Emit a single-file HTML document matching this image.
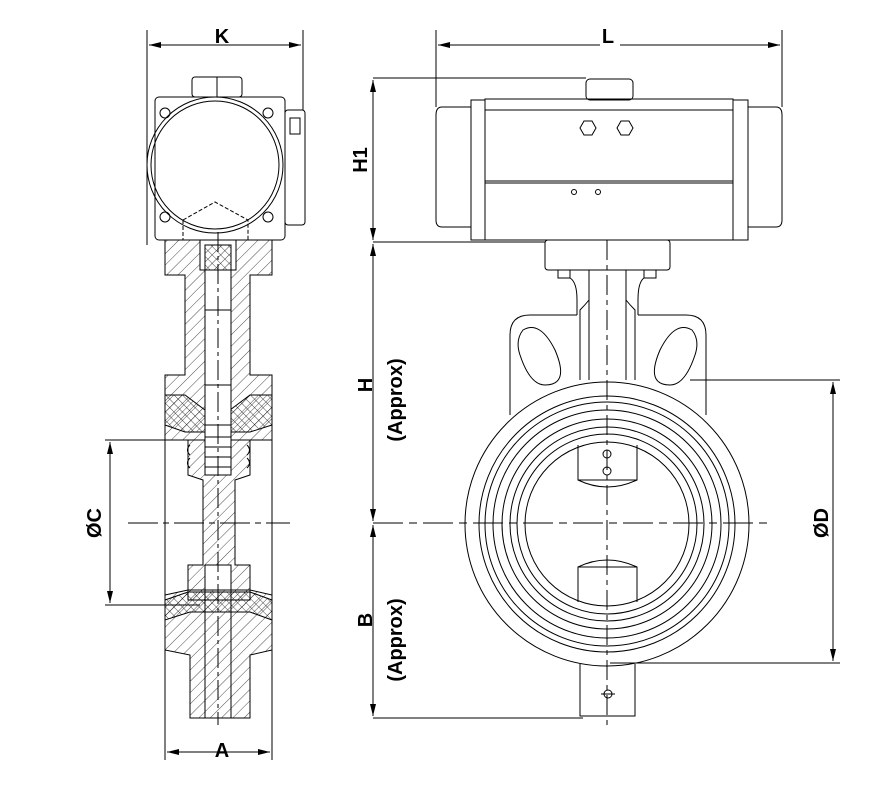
<!DOCTYPE html>
<html><head><meta charset="utf-8"><style>
html,body{margin:0;padding:0;background:#fff;}
svg{display:block;}
text{font-family:"Liberation Sans",Arial,sans-serif;font-weight:bold;font-size:20px;fill:#000;}
</style></head><body>
<svg width="872" height="786" viewBox="0 0 872 786" xmlns="http://www.w3.org/2000/svg">
<defs>
<pattern id="h" width="8" height="8" patternUnits="userSpaceOnUse" patternTransform="rotate(45)">
<line x1="0" y1="0" x2="0" y2="8" stroke="#000" stroke-width="0.7"/></pattern>
<pattern id="x" width="6" height="6" patternUnits="userSpaceOnUse" patternTransform="rotate(45)">
<line x1="0" y1="0" x2="0" y2="6" stroke="#000" stroke-width="0.7"/><line x1="0" y1="0" x2="6" y2="0" stroke="#000" stroke-width="0.7"/></pattern>
<marker id="a" markerWidth="12" markerHeight="6" refX="12" refY="3" orient="auto" markerUnits="userSpaceOnUse"><path d="M0,0 L12,3 L0,6z" fill="#000"/></marker>
</defs>
<g fill="none" stroke="#000" stroke-width="1">
<!-- ===== LEFT VIEW ===== -->
<!-- K dim -->
<line x1="147" y1="30" x2="147" y2="245"/><line x1="303" y1="30" x2="303" y2="110"/>
<line x1="175" y1="45" x2="149" y2="45" marker-end="url(#a)"/><line x1="275" y1="45" x2="301" y2="45" marker-end="url(#a)"/>
<line x1="175" y1="45" x2="275" y2="45"/>
<!-- actuator end -->
<rect x="192" y="77" width="50" height="20" rx="3"/><line x1="217" y1="77" x2="217" y2="97"/>
<rect x="155" y="97" width="130" height="143" rx="4"/>
<rect x="285" y="110" width="20" height="115" rx="3"/>
<rect x="290" y="118" width="10" height="16"/>
<circle cx="215" cy="165" r="68"/><circle cx="215" cy="165" r="64"/>
<circle cx="165" cy="113" r="5"/><circle cx="268" cy="113" r="5"/><circle cx="165" cy="217" r="5"/><circle cx="268" cy="217" r="5"/>
<path d="M183 220 L215 202 L248 220 L248 240 M183 220 L183 240" stroke-dasharray="4 2"/>
<!-- body section -->
<path d="M165 240 H272 V275 H250 V375 H272 V440 H165 V375 H185 V275 H165Z" fill="url(#h)"/>
<path d="M165 395 H185 L205 410 H230 L250 395 H272 V425 L250 432 H185 L165 425Z" fill="url(#x)"/>
<rect x="200" y="240" width="36" height="30" fill="#fff"/>
<rect x="205" y="245" width="26" height="25" fill="url(#x)"/>
<rect x="205" y="270" width="26" height="160" fill="#fff"/>
<rect x="205" y="310" width="26" height="75"/>
<path d="M188 440 H250 V475 L235 480 V565 H250 V600 H188 V565 H203 V480 L188 475Z" fill="url(#h)"/>
<rect x="205" y="425" width="26" height="50" fill="#fff"/>
<path d="M205 437 H231 M205 447 H231 M205 457 H231 M205 467 H231"/>
<path d="M190 445 q-5 5 0 10 M190 458 q-5 5 0 10 M247 445 q5 5 0 10 M247 458 q5 5 0 10"/>
<rect x="205" y="565" width="26" height="35" fill="#fff"/>
<path d="M165 595 L188 590 H250 L272 595 V650 L250 655 V718 H190 V655 L165 650Z" fill="url(#h)"/>
<path d="M165 600 L188 592 H250 L272 600 V620 L250 612 H190 L165 620Z" fill="url(#x)"/>
<rect x="205" y="600" width="26" height="118" fill="none"/>
<line x1="165" y1="440" x2="165" y2="760"/><line x1="272" y1="440" x2="272" y2="760"/>
<line x1="218" y1="232" x2="218" y2="725" stroke-dasharray="20 4 4 4"/>
<line x1="128" y1="523" x2="290" y2="523" stroke-dasharray="30 5 6 5"/>
<!-- C dim -->
<line x1="105" y1="440" x2="200" y2="440"/><line x1="105" y1="605" x2="200" y2="605"/>
<line x1="110" y1="490" x2="110" y2="442" marker-end="url(#a)"/><line x1="110" y1="560" x2="110" y2="603" marker-end="url(#a)"/><line x1="110" y1="490" x2="110" y2="560"/>
<!-- A dim -->
<line x1="200" y1="752" x2="167" y2="752" marker-end="url(#a)"/><line x1="240" y1="752" x2="270" y2="752" marker-end="url(#a)"/><line x1="200" y1="752" x2="240" y2="752"/>

<!-- ===== RIGHT VIEW ===== -->
<line x1="436" y1="30" x2="436" y2="107"/><line x1="782" y1="30" x2="782" y2="107"/>
<line x1="600" y1="45" x2="438" y2="45" marker-end="url(#a)"/><line x1="620" y1="45" x2="780" y2="45" marker-end="url(#a)"/>
<rect x="586" y="79" width="47" height="21" rx="4"/>
<path d="M471 107 H442 Q436 107 436 115 V220 Q436 227 442 227 H471"/>
<rect x="471" y="100" width="14" height="140"/>
<rect x="485" y="99" width="248" height="141"/>
<line x1="485" y1="110" x2="733" y2="110"/><line x1="485" y1="181" x2="733" y2="181"/><line x1="485" y1="183" x2="733" y2="183"/>
<rect x="733" y="100" width="15" height="140"/>
<path d="M748 107 H776 Q782 107 782 115 V220 Q782 227 776 227 H748"/>
<polygon points="580,128 584,121 592,121 596,128 592,135 584,135"/>
<polygon points="617,128 621,121 629,121 633,128 629,135 621,135"/>
<circle cx="574" cy="192" r="2.5"/><circle cx="598" cy="192" r="2.5"/>
<rect x="545" y="240" width="125" height="30" rx="3"/>
<rect x="558" y="270" width="12" height="8"/><rect x="644" y="270" width="12" height="8"/>
<path d="M589 270 V300 Q585 305 580 310 V380 M626 270 V300 Q630 305 635 310 V380"/>
<path d="M570 278 Q577 282 577 300 V315 M644 278 Q638 282 638 300 V315"/>
<line x1="589" y1="270" x2="589" y2="380"/><line x1="626" y1="270" x2="626" y2="380"/>
<path d="M510 415 V335 Q510 315 530 315 H577 M638 315 H686 Q706 315 706 335 V415"/>
<path d="M523 330 Q540 320 555 350 Q570 385 545 385 Q530 385 520 355 Q515 340 523 330Z"/>
<path d="M692 330 Q675 320 660 350 Q645 385 670 385 Q685 385 695 355 Q700 340 692 330Z"/>
<circle cx="607" cy="524" r="142" fill="#fff"/>
<circle cx="607" cy="524" r="128"/><circle cx="607" cy="524" r="122"/><circle cx="607" cy="524" r="114"/><circle cx="607" cy="524" r="105"/><circle cx="607" cy="524" r="97"/><circle cx="607" cy="524" r="90"/><circle cx="607" cy="524" r="82"/>
<path d="M578 445 V480 Q607 494 637 480 V445"/><line x1="578" y1="480" x2="637" y2="480"/>
<circle cx="607" cy="454" r="4"/><circle cx="607" cy="471" r="4"/>
<path d="M578 602 V567 Q607 553 637 567 V602"/><line x1="578" y1="567" x2="637" y2="567"/>
<path d="M580 664 V716 H635 V664"/><circle cx="608" cy="694" r="4"/>
<line x1="601" y1="694" x2="615" y2="694"/>
<line x1="607" y1="240" x2="607" y2="725" stroke-dasharray="20 5 5 5"/>
<line x1="373" y1="523" x2="770" y2="523" stroke-dasharray="30 6 8 6"/>
<!-- dims right -->
<line x1="373" y1="78" x2="586" y2="78"/><line x1="373" y1="242" x2="545" y2="242"/><line x1="373" y1="718" x2="583" y2="718"/>
<line x1="373" y1="130" x2="373" y2="80" marker-end="url(#a)"/><line x1="373" y1="200" x2="373" y2="240" marker-end="url(#a)"/><line x1="373" y1="130" x2="373" y2="200"/>
<line x1="373" y1="300" x2="373" y2="244" marker-end="url(#a)"/><line x1="373" y1="470" x2="373" y2="521" marker-end="url(#a)"/><line x1="373" y1="300" x2="373" y2="470"/>
<line x1="373" y1="580" x2="373" y2="525" marker-end="url(#a)"/><line x1="373" y1="660" x2="373" y2="716" marker-end="url(#a)"/><line x1="373" y1="580" x2="373" y2="660"/>
<line x1="690" y1="380" x2="840" y2="380"/><line x1="610" y1="663" x2="840" y2="663"/>
<line x1="833" y1="450" x2="833" y2="382" marker-end="url(#a)"/><line x1="833" y1="600" x2="833" y2="661" marker-end="url(#a)"/><line x1="833" y1="450" x2="833" y2="600"/>
</g>
<text x="222" y="43" text-anchor="middle">K</text>
<text x="608" y="43" text-anchor="middle">L</text>
<text x="222" y="757" text-anchor="middle">A</text>
<text transform="translate(101,523) rotate(-90)" text-anchor="middle">ØC</text>
<text transform="translate(367,160) rotate(-90)" text-anchor="middle">H1</text>
<text transform="translate(372,385) rotate(-90)" text-anchor="middle">H</text>
<text transform="translate(402,400) rotate(-90)" text-anchor="middle">(Approx)</text>
<text transform="translate(372,620) rotate(-90)" text-anchor="middle">B</text>
<text transform="translate(402,640) rotate(-90)" text-anchor="middle">(Approx)</text>
<text transform="translate(828,523) rotate(-90)" text-anchor="middle">ØD</text>
</svg>
</body></html>
